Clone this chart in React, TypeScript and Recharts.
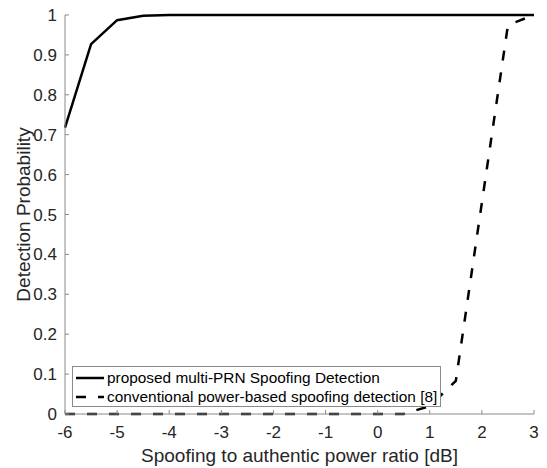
import React from "react";
import {
  LineChart,
  Line,
  XAxis,
  YAxis,
  Legend,
} from "recharts";

// spoofing-to-authentic power ratio, dB
const RATIO_DB = [-6, -5.5, -5, -4.5, -4, -3.5, -3, -2.5, -2, -1.5, -1, -0.5, 0, 0.5, 1, 1.5, 2, 2.5, 3];
const PROPOSED = [0.718, 0.927, 0.987, 0.998, 1, 1, 1, 1, 1, 1, 1, 1, 1, 1, 1, 1, 1, 1, 1];
const CONVENTIONAL = [0, 0, 0, 0, 0, 0, 0, 0, 0, 0, 0, 0, 0, 0, 0.02, 0.083, 0.53, 0.975, 1];

const X_TICKS = [-6, -5, -4, -3, -2, -1, 0, 1, 2, 3];
const Y_TICKS = [0, 0.1, 0.2, 0.3, 0.4, 0.5, 0.6, 0.7, 0.8, 0.9, 1];

const data = RATIO_DB.map((x, i) => ({
  x,
  proposed: PROPOSED[i],
  conventional: CONVENTIONAL[i],
}));

const FONT = "'Liberation Sans', Arial, sans-serif";
const AXIS_COLOR = "#8a8a8a";
const TEXT_COLOR = "#262626";
const DASH = "10 12";

function MatlabLegend() {
  const rows = [
    { label: "proposed multi-PRN Spoofing Detection", dash: undefined },
    { label: "conventional power-based spoofing detection [8]", dash: DASH },
  ];
  return (
    <div
      style={{
        border: `1px solid ${AXIS_COLOR}`,
        background: "#fff",
        width: 367,
        height: 38,
        boxSizing: "content-box",
        fontFamily: FONT,
        fontSize: 15.4,
        color: "#000",
        lineHeight: "19px",
        paddingTop: 1,
      }}
    >
      {rows.map((r) => (
        <div key={r.label} style={{ display: "flex", alignItems: "center", height: 19 }}>
          <svg width={34} height={19} style={{ flex: "none" }}>
            <line x1={3} y1={10} x2={31} y2={10} stroke="#000" strokeWidth={2.5} strokeDasharray={r.dash} />
          </svg>
          <span style={{ whiteSpace: "nowrap" }}>{r.label}</span>
        </div>
      ))}
    </div>
  );
}

export default function App() {
  return (
    <div style={{ position: "absolute", left: 0, top: 0, background: "#fff" }}>
      <LineChart
        width={547}
        height={468}
        data={data}
        margin={{ top: 15, right: 13, bottom: 0, left: 0 }}
      >
        <XAxis
          dataKey="x"
          type="number"
          domain={[-6, 3]}
          ticks={X_TICKS}
          interval={0}
          height={54}
          tickSize={-4}
          tickMargin={16}
          stroke={AXIS_COLOR}
          tick={{ fontSize: 17, fill: TEXT_COLOR, fontFamily: FONT }}
          label={{
            value: "Spoofing to authentic power ratio [dB]",
            position: "insideBottom",
            offset: 6,
            style: { fontSize: 19, fill: TEXT_COLOR, fontFamily: FONT },
          }}
        />
        <XAxis
          xAxisId="top"
          orientation="top"
          dataKey="x"
          type="number"
          domain={[-6, 3]}
          ticks={X_TICKS}
          height={0}
          tickSize={-4}
          tick={false}
          stroke={AXIS_COLOR}
        />
        <YAxis
          type="number"
          domain={[0, 1]}
          ticks={Y_TICKS}
          interval={0}
          width={65}
          tickSize={-4}
          tickMargin={12}
          stroke={AXIS_COLOR}
          tick={{ fontSize: 17, fill: TEXT_COLOR, fontFamily: FONT }}
          label={{
            value: "Detection Probability",
            angle: -90,
            position: "center",
            dx: -9,
            style: { fontSize: 19, fill: TEXT_COLOR, fontFamily: FONT, textAnchor: "middle" },
          }}
        />
        <YAxis
          yAxisId="right"
          orientation="right"
          type="number"
          domain={[0, 1]}
          ticks={Y_TICKS}
          width={0}
          tickSize={-4}
          tick={false}
          stroke={AXIS_COLOR}
        />
        <Legend
          layout="horizontal"
          verticalAlign="middle"
          align="center"
          content={() => <MatlabLegend />}
          wrapperStyle={{ left: 72, top: 366, width: 369, height: 40, bottom: "auto" }}
        />
        <Line
          dataKey="proposed"
          stroke="#000"
          strokeWidth={2.5}
          dot={false}
          type="linear"
          isAnimationActive={false}
        />
        <Line
          dataKey="conventional"
          stroke="#000"
          strokeWidth={2.5}
          strokeDasharray={DASH}
          dot={false}
          type="linear"
          isAnimationActive={false}
        />
      </LineChart>
    </div>
  );
}
